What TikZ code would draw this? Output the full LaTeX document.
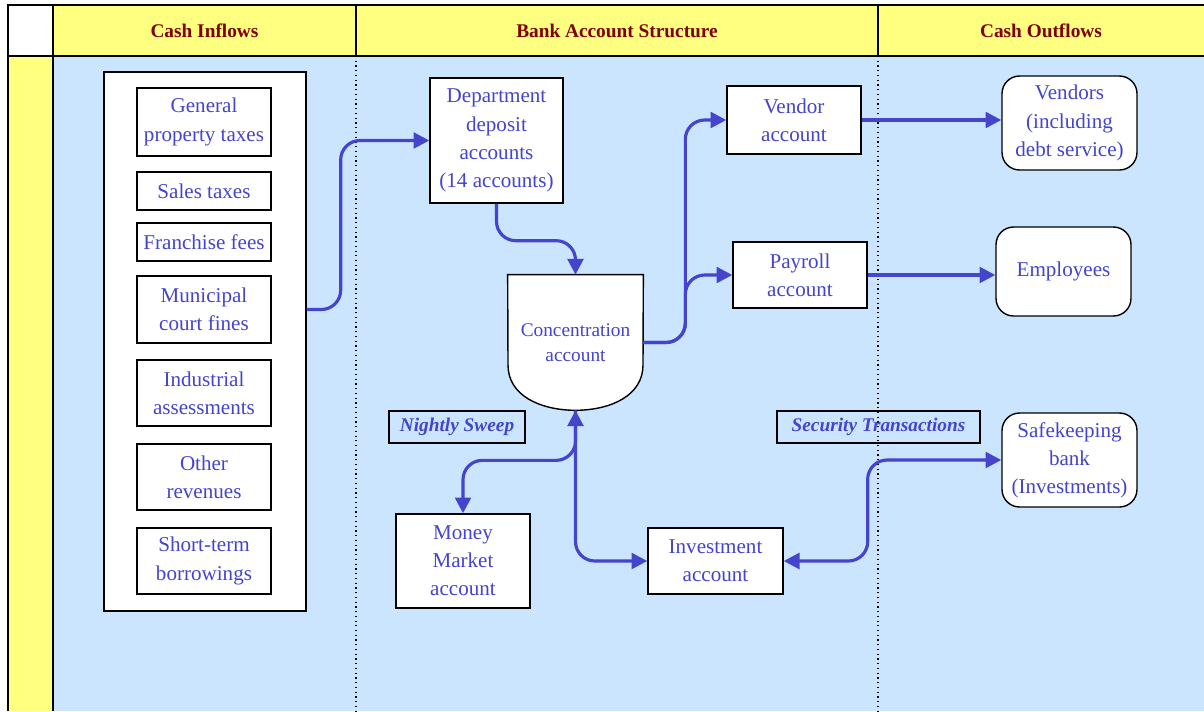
\documentclass[tikz,border=0pt]{standalone}
\usepackage{fontspec}
\setmainfont{Liberation Serif}
\usepackage{tikz}
\usetikzlibrary{positioning, arrows.meta, calc}
\definecolor{paleblue}{RGB}{204,229,255}
\definecolor{paleyellow}{RGB}{255,255,128}
\definecolor{inkblue}{RGB}{68,68,204}
\definecolor{maroon}{RGB}{128,0,0}

\begin{document}
\begin{tikzpicture}[x=0.02cm, y=-0.02cm,
    font=\fontsize{12}{16}\selectfont,
    acct/.style={draw, line width=0.8pt, fill=white, text=inkblue, align=center, inner sep=1pt},
    inbox/.style={acct, minimum width=2.68cm},
    party/.style={acct, rounded corners=10pt, minimum width=2.7cm},
    tag/.style={draw, line width=0.8pt, text=inkblue, font=\fontsize{11}{13}\selectfont\bfseries\itshape,
                minimum height=0.64cm, inner sep=1pt},
    head/.style={text=maroon, font=\fontsize{11}{13}\selectfont\bfseries},
    flow/.style={inkblue, line width=1.8pt, rounded corners=11pt,
                 -{Triangle[length=9pt,width=9pt]}},
    flowboth/.style={flow, {Triangle[length=9pt,width=9pt]}-{Triangle[length=9pt,width=9pt]}}]
  \useasboundingbox (0,0) rectangle (1204,711);
  % table
  \fill[paleblue] (53,56) rectangle (1204,711);
  \fill[paleyellow] (53,5) rectangle (1204,56);
  \fill[paleyellow] (8,56) rectangle (53,711);
  \draw[line width=0.6pt] (8,711) -- (8,5) -- (1204,5);
  \draw[line width=0.6pt] (8,56) -- (1204,56);
  \draw[line width=0.6pt] (53,5) -- (53,711);
  \draw[line width=0.6pt] (356,5) -- (356,56);
  \draw[line width=0.6pt] (878,5) -- (878,56);
  \draw[dotted, line width=0.7pt] (356,56) -- (356,711);
  \draw[dotted, line width=0.7pt] (878,56) -- (878,711);
  \node[head] (hin) at (204.5,31) {Cash Inflows};
  \node[head] (hbank) at (617,31) {Bank Account Structure};
  \node[head] (hout) at (1041,31) {Cash Outflows};

  % inflows
  \node[draw, line width=0.8pt, fill=white, minimum width=4.04cm, minimum height=10.78cm] (inflow) at (205,341.5) {};
  \node[inbox, minimum height=1.36cm] (gpt) at (204,122) {General\\property taxes};
  \node[inbox, minimum height=0.76cm] (sales) at (204,191) {Sales taxes};
  \node[inbox, minimum height=0.76cm] (franch) at (204,242) {Franchise fees};
  \node[inbox, minimum height=1.34cm] (mcf) at (204,309.5) {Municipal\\court fines};
  \node[inbox, minimum height=1.32cm] (indus) at (204,393) {Industrial\\assessments};
  \node[inbox, minimum height=1.32cm] (other) at (204,477) {Other\\revenues};
  \node[inbox, minimum height=1.32cm] (short) at (204,561) {Short-term\\borrowings};

  % bank accounts
  \node[acct, minimum width=2.66cm, minimum height=2.5cm] (dept) at (496.5,140.5)
       {Department\\deposit\\accounts\\(14 accounts)};
  \node[minimum width=2.7cm, minimum height=2.7cm, text=inkblue, align=center,
        font=\fontsize{11}{14}\selectfont] (conc) at (575.5,342.5) {};
  \draw[line width=0.8pt, fill=white] (conc.north west) -- (conc.north east) -- (643,365)
       .. controls (643,395) and (612,410) .. (conc.south)
       .. controls (539,410) and (508,395) .. (508,365) -- cycle;
  \node[text=inkblue, align=center, font=\fontsize{11}{14}\selectfont] (conctxt) at (conc) {Concentration\\account};
  \node[acct, minimum width=2.68cm, minimum height=1.36cm] (vendacct) at (794,120) {Vendor\\account};
  \node[acct, minimum width=2.68cm, minimum height=1.32cm] (payroll) at (800,275) {Payroll\\account};
  \node[acct, minimum width=2.68cm, minimum height=1.88cm] (mm) at (463,561) {Money\\Market\\account};
  \node[acct, minimum width=2.7cm, minimum height=1.32cm] (invest) at (715.5,561) {Investment\\account};
  \node[tag, minimum width=2.72cm] (sweep) at (457,427) {Nightly Sweep};
  \node[tag, minimum width=4.06cm] (sectx) at (878.5,427) {Security Transactions};

  % outflows
  \node[party, minimum height=1.88cm] (vendors) at (1069.5,123) {Vendors\\(including\\debt service)};
  \node[party, minimum height=1.78cm] (employees) at (1063.5,271.5) {Employees};
  \node[party, minimum height=1.88cm] (safe) at (1069.5,460) {Safekeeping\\bank\\(Investments)};

  % flows
  \draw[flow] (inflow.east |- mcf.east) -- ++(34,0) |- (dept.west);
  \draw[flow] (dept.south) -- ++(0,37) -| (conc.north);
  \draw[flow] (conc.east) -- ++(42,0) |- (vendacct.west);
  \draw[flow] (conc.east) -- ++(42,0) |- (payroll.west);
  \draw[flow] (vendacct.east) -- (vendacct.east -| vendors.west);
  \draw[flow] (payroll.east) -- (payroll.east -| employees.west);
  \coordinate (split) at ($(conc.south)+(0,50)$);
  \draw[flowboth] (mm.north) |- (split) -- (conc.south);
  \draw[flow] (conc.south) |- (invest.west);
  \draw[flowboth] (invest.east) -- ++(84,0) |- (safe.west);
\end{tikzpicture}
\end{document}
